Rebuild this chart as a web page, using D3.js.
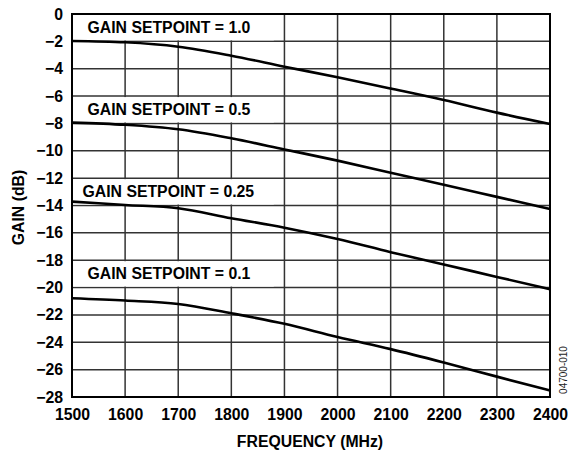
<!DOCTYPE html>
<html><head><meta charset="utf-8">
<script src="https://cdn.jsdelivr.net/npm/d3@7"></script>
<style>
html,body{margin:0;padding:0;background:#fff;}
svg{display:block;font-family:"Liberation Sans",Arial,sans-serif;}
</style></head>
<body><svg id="c" width="568" height="452"></svg>
<script>
const freq = [1500,1600,1700,1800,1900,2000,2100,2200,2300,2400];
const gain10  = [-1.97,-2.07,-2.39,-3.05,-3.85,-4.63,-5.45,-6.29,-7.21,-8.04];
const gain05  = [-7.94,-8.10,-8.43,-9.09,-9.90,-10.72,-11.60,-12.48,-13.37,-14.26];
const gain025 = [-13.72,-13.96,-14.20,-14.93,-15.62,-16.45,-17.41,-18.31,-19.22,-20.12];
const gain01  = [-20.78,-20.95,-21.20,-21.88,-22.65,-23.62,-24.50,-25.48,-26.51,-27.53];
const seriesLabels = ["GAIN SETPOINT = 1.0","GAIN SETPOINT = 0.5","GAIN SETPOINT = 0.25","GAIN SETPOINT = 0.1"];
const labelRows = [0,-6,-12,-18];
const xTicks = [1500,1600,1700,1800,1900,2000,2100,2200,2300,2400];
const yTicks = d3.range(0,-29,-2);

const svg = d3.select("#c");
const L=72,R=550,T=14,B=397;
const x = d3.scaleLinear().domain([1500,2400]).range([L,R]);
const y = d3.scaleLinear().domain([0,-28]).range([T,B]);

// grid
const g = svg.append("g");
g.selectAll("line.v").data(xTicks).join("line")
 .attr("x1",d=>x(d)).attr("x2",d=>x(d)).attr("y1",T).attr("y2",B)
 .attr("stroke","#333").attr("stroke-width",1.5);
g.selectAll("line.h").data(yTicks).join("line")
 .attr("x1",L).attr("x2",R).attr("y1",d=>y(d)).attr("y2",d=>y(d))
 .attr("stroke","#333").attr("stroke-width",1.5);

// label boxes
const labX = [87.5,87.5,82.5,87.5];
const lg = svg.append("g");
seriesLabels.forEach((t,i)=>{
  const y0=y(labelRows[i]), y1=y(labelRows[i]-2);
  lg.append("rect").attr("x",L+1).attr("y",y0+1).attr("width",x(1880)-L-1).attr("height",y1-y0-2).attr("fill","#fff");
  lg.append("text").attr("x",labX[i]).attr("y",y0+(y1-y0)/2+5.5)
    .attr("font-size",15.8).attr("font-weight","bold").attr("fill","#000").text(t);
});

// frame
svg.append("rect").attr("x",L).attr("y",T).attr("width",R-L).attr("height",B-T)
 .attr("fill","none").attr("stroke","#000").attr("stroke-width",2);

// curves
const line = d3.line().x((d,i)=>x(freq[i])).y(d=>y(d)).curve(d3.curveMonotoneX);
[gain10,gain05,gain025,gain01].forEach(s=>{
  svg.append("path").attr("d",line(s)).attr("fill","none").attr("stroke","#000").attr("stroke-width",2.6);
});

// axes
const xa = svg.append("g").attr("transform",`translate(0,${B})`)
 .call(d3.axisBottom(x).tickValues(xTicks).tickSize(0).tickPadding(12).tickFormat(d3.format("d")));
const ya = svg.append("g").attr("transform",`translate(${L},0)`)
 .call(d3.axisLeft(y).tickValues(yTicks).tickSize(0).tickPadding(9).tickFormat(d=>d===0?"0":"\u2212"+Math.abs(d)));
[xa,ya].forEach(a=>{
  a.select(".domain").remove();
  a.selectAll("text").attr("font-size",15.8).attr("font-weight","bold").attr("fill","#000")
   .attr("font-family","'Liberation Sans',Arial,sans-serif");
});

svg.append("text").attr("x",(L+R)/2-1).attr("y",447).attr("text-anchor","middle")
 .attr("font-size",15.8).attr("font-weight","bold").text("FREQUENCY (MHz)");
svg.append("text").attr("transform",`translate(24,${(T+B)/2+2}) rotate(-90)`).attr("text-anchor","middle")
 .attr("font-size",15.8).attr("font-weight","bold").text("GAIN (dB)");
svg.append("text").attr("transform",`translate(567,370) rotate(-90)`).attr("text-anchor","middle")
 .attr("font-size",10).attr("fill","#222").text("04700-010");
</script></body></html>
